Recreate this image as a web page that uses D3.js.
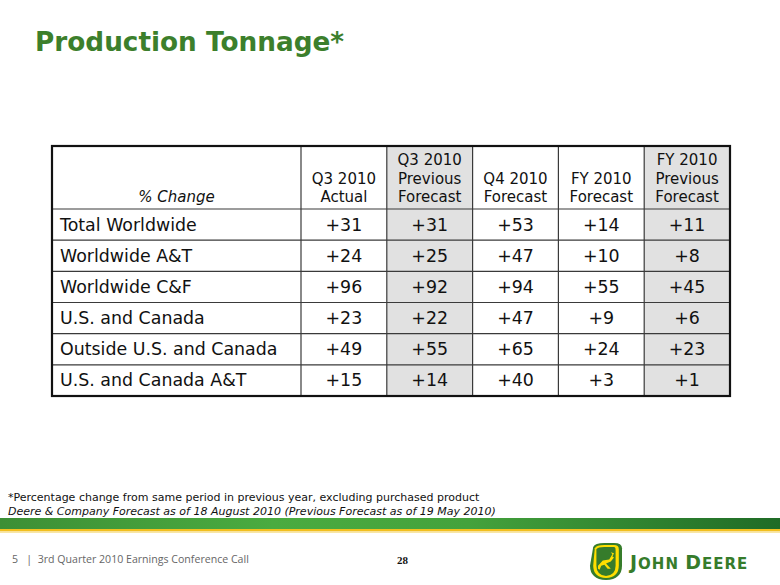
<!DOCTYPE html>
<html>
<head>
<meta charset="utf-8">
<script src="https://cdn.jsdelivr.net/npm/d3@7"></script>
<style>
html,body{margin:0;padding:0;background:#fff;}
svg{display:block;}
</style>
</head>
<body>
<svg id="chart" width="780" height="585"></svg>
<script>
// ---- data ----
const rowLabels = ["Total Worldwide","Worldwide A&T","Worldwide C&F","U.S. and Canada","Outside U.S. and Canada","U.S. and Canada A&T"];
const columnHeaders = [["Q3 2010","Actual"],["Q3 2010","Previous","Forecast"],["Q4 2010","Forecast"],["FY 2010","Forecast"],["FY 2010","Previous","Forecast"]];
const shadedColumns = [false,true,false,false,true];
const q3Actual      = [31,24,96,23,49,15];
const q3Previous    = [31,25,92,22,55,14];
const q4Forecast    = [53,47,94,47,65,40];
const fyForecast    = [14,10,55,9,24,3];
const fyPrevious    = [11,8,45,6,23,1];
const series = [q3Actual,q3Previous,q4Forecast,fyForecast,fyPrevious];

const titleText = "Production Tonnage*";
const cornerLabel = "% Change";
const footnote1 = "*Percentage change from same period in previous year, excluding purchased product";
const footnote2 = "Deere & Company Forecast as of 18 August 2010 (Previous Forecast as of 19 May 2010)";
const footerText = "5   |  3rd Quarter 2010 Earnings Conference Call";
const pageNumber = "28";

// ---- layout ----
const svg = d3.select("#chart");
const FONT = "Verdana, 'DejaVu Sans', sans-serif";
const tLeft = 52, tRight = 730, tTop = 146, headBottom = 209, tBottom = 396, labelColRight = 301;

const x = d3.scaleBand().domain(d3.range(series.length)).range([labelColRight, tRight]).padding(0);
const y = d3.scaleBand().domain(d3.range(rowLabels.length)).range([headBottom, tBottom]).padding(0);

// title
svg.append("text").attr("x",35).attr("y",51)
  .attr("font-family",FONT).attr("font-weight","bold").attr("font-size",26.3)
  .attr("fill","#3c7f2c").text(titleText);

const tbl = svg.append("g");

// cell backgrounds
tbl.append("rect").attr("x",tLeft).attr("y",tTop).attr("width",tRight-tLeft).attr("height",tBottom-tTop).attr("fill","#fff");
series.forEach((s,i)=>{
  if(shadedColumns[i]){
    tbl.append("rect").attr("x",x(i)).attr("y",tTop).attr("width",x.bandwidth()).attr("height",tBottom-tTop).attr("fill","#e1e1e1");
  }
});

// grid lines
const lineColor = "#3a3a3a";
[labelColRight, ...d3.range(1,series.length).map(i=>x(i))].forEach(xx=>{
  tbl.append("line").attr("x1",xx).attr("x2",xx).attr("y1",tTop).attr("y2",tBottom).attr("stroke",lineColor).attr("stroke-width",1.2);
});
[headBottom, ...d3.range(1,rowLabels.length).map(i=>y(i))].forEach(yy=>{
  tbl.append("line").attr("x1",tLeft).attr("x2",tRight).attr("y1",yy).attr("y2",yy).attr("stroke",lineColor).attr("stroke-width",1.2);
});
// outer border
tbl.append("rect").attr("x",tLeft).attr("y",tTop).attr("width",tRight-tLeft).attr("height",tBottom-tTop)
  .attr("fill","none").attr("stroke","#111").attr("stroke-width",2.2);

// header
tbl.append("text").attr("x",(tLeft+labelColRight)/2).attr("y",202).attr("text-anchor","middle")
  .attr("font-family",FONT).attr("font-style","italic").attr("font-size",15).attr("fill","#111").text(cornerLabel);
columnHeaders.forEach((lines,i)=>{
  const cx = x(i)+x.bandwidth()/2;
  lines.forEach((ln,j)=>{
    tbl.append("text").attr("x",cx).attr("y",202-(lines.length-1-j)*18.5).attr("text-anchor","middle")
      .attr("font-family",FONT).attr("font-size",15).attr("fill","#111").text(ln);
  });
});

// rows
rowLabels.forEach((lab,r)=>{
  const cy = y(r)+y.bandwidth()/2+6;
  tbl.append("text").attr("x",60).attr("y",cy).attr("font-family",FONT).attr("font-size",17.4).attr("fill","#111").text(lab);
  series.forEach((s,i)=>{
    tbl.append("text").attr("x",x(i)+x.bandwidth()/2).attr("y",cy).attr("text-anchor","middle")
      .attr("font-family",FONT).attr("font-size",17.4).attr("fill","#111").text("+"+s[r]);
  });
});

// footnotes
svg.append("text").attr("x",8).attr("y",501).attr("font-family",FONT).attr("font-size",11).attr("fill","#111").text(footnote1);
svg.append("text").attr("x",8).attr("y",515).attr("font-family",FONT).attr("font-style","italic").attr("font-size",11).attr("fill","#111").text(footnote2);

// stripe
const defs = svg.append("defs");
const grad = defs.append("linearGradient").attr("id","stripe").attr("x1","0").attr("x2","1").attr("y1","0").attr("y2","0");
[[0,"#3d8f35"],[0.35,"#4aab40"],[0.6,"#44a23c"],[1,"#1f6b26"]].forEach(([o,c])=>grad.append("stop").attr("offset",o).attr("stop-color",c));
svg.append("rect").attr("x",0).attr("y",518).attr("width",780).attr("height",11).attr("fill","url(#stripe)");
svg.append("rect").attr("x",0).attr("y",529).attr("width",780).attr("height",2.5).attr("fill","#f2bf1e");
svg.append("rect").attr("x",0).attr("y",531.5).attr("width",780).attr("height",1.5).attr("fill","#f8e6a6");

// footer
svg.append("text").attr("x",12).attr("y",563).attr("font-family","'Open Sans', 'DejaVu Sans', sans-serif").attr("font-size",10.6).attr("fill","#666").attr("xml:space","preserve").text(footerText);
svg.append("text").attr("x",397).attr("y",564).attr("font-family","'Liberation Serif', serif").attr("font-weight","bold").attr("font-size",11).attr("fill","#111").text(pageNumber);

// logo
const logo = svg.append("g").attr("transform","translate(590,543) scale(1.6,1.03)");
logo.append("path").attr("d","M2,4 Q3,0 9,0 L15,0 Q20,0 20,5 L20,22 Q20,35 10,36 Q0,35 0,22 Z").attr("fill","#367c2b");
logo.append("path").attr("d","M3,5 Q4,2 9,2 L15,2 Q18,2 18,6 L18,22 Q18,33 10,34 Q2,33 2,22 Z").attr("fill","#ffde00");
logo.append("path").attr("d","M4,6 Q5,4 9,4 L15,4 Q16,4 16,7 L16,22 Q16,31 10,32 Q4,31 4,22 Z").attr("fill","#367c2b");
logo.append("path").attr("d","M5,22 L8,17 L12,16 L14,11 L13,9 L15,10 L14,13 L15,14 L13,18 L10,20 L13,25 L11,25 L9,21 L7,22 L6,26 L5,25 Z").attr("fill","#ffde00");
svg.append("text").attr("x",630).attr("y",569).attr("font-family","'DejaVu Sans', sans-serif").attr("font-weight","bold").attr("font-size",19).attr("fill","#367c2b").attr("letter-spacing",1)
  .call(t=>{t.append("tspan").text("J"); t.append("tspan").attr("font-size",15).text("OHN "); t.append("tspan").text("D"); t.append("tspan").attr("font-size",15).text("EERE");});
</script>
</body>
</html>
